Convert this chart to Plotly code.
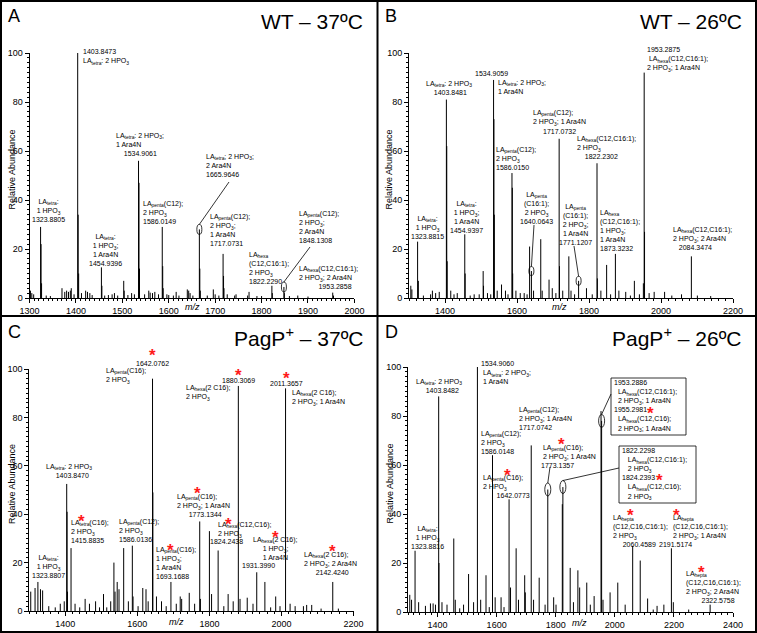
import plotly.graph_objects as go

W, H = 757, 633
FONT = "Liberation Sans, Arial, sans-serif"

# peak lists: (m/z, relative abundance %)
peaks_a = [(1300, 5), (1302, 3), (1305, 2), (1309, 1.5), (1323.88, 29), (1324.88, 22), (1326, 6), (1336, 1),
           (1345, 0.8), (1370, 4), (1376, 2.5), (1380, 3), (1384, 2.5), (1388, 3), (1390, 4), (1396, 1.5),
           (1403.85, 100), (1404.85, 34), (1405.9, 10), (1412, 2), (1421, 3), (1425, 2.5), (1430, 2), (1435, 1.2),
           (1454.94, 12.5), (1455.94, 5), (1462, 1), (1470, 1.2), (1478, 1.5), (1483, 2), (1490, 1), (1503, 7),
           (1504, 3), (1512, 1.2), (1520, 2), (1526, 1.5), (1534.91, 56), (1535.91, 47), (1537, 12), (1548, 1.5),
           (1557, 3), (1560, 2.2), (1565, 2), (1570, 2.5), (1578, 1.5), (1586.01, 29), (1587.01, 13), (1588, 4),
           (1596, 1.5), (1600, 1.2), (1610, 1), (1616, 2.5), (1622, 1), (1640, 3.5), (1643, 3), (1646, 2),
           (1652, 1), (1665.96, 28), (1666.96, 12), (1668, 3), (1683, 1), (1696, 3.5), (1700, 1.5), (1708, 1),
           (1717.07, 18), (1718.07, 9), (1719, 4), (1726, 1.5), (1742, 1), (1745, 1.5), (1770, 1), (1773, 2.5),
           (1790, 0.8), (1800, 0.8), (1822.23, 5), (1823.2, 2), (1848.13, 4.5), (1849.1, 2), (1860, 0.8),
           (1878, 1), (1900, 0.6), (1953.29, 2.2), (1955, 1)]

peaks_b = [(1305, 5), (1308, 3.5), (1323.88, 23), (1326, 7), (1340, 1), (1360, 1.5), (1365, 3), (1374, 2),
           (1384, 2.5), (1403.85, 81), (1404.85, 62), (1406, 15), (1416, 3), (1425, 1.5), (1434, 2),
           (1454.94, 26), (1456, 10), (1470, 1), (1481, 1.5), (1495, 1.5), (1506, 11), (1507, 5), (1518, 2),
           (1527, 1.5), (1534.91, 89), (1535.91, 73), (1537, 34), (1545, 3), (1557, 5.5), (1568, 3), (1575, 1.5),
           (1586.02, 51), (1587.02, 45), (1588, 10), (1597, 3), (1609, 2), (1620, 2), (1628, 1.5), (1635, 21),
           (1640.06, 11), (1646, 3), (1666, 24), (1670, 3), (1689, 7.5), (1698, 4), (1708, 2), (1717.07, 65),
           (1718.07, 13), (1727, 3), (1744, 17), (1750, 3), (1760, 1.5), (1771.12, 7), (1793, 4), (1809, 1.5),
           (1822.23, 55), (1823.23, 8), (1833, 3), (1849, 13.5), (1860, 1.5), (1873.32, 18), (1883, 3),
           (1902, 2.5), (1915, 1), (1926, 7), (1940, 1.5), (1951, 6), (1953.29, 92), (1954.29, 27), (1967, 2),
           (1981, 2.5), (2010, 2.5), (2030, 1), (2057, 1.5), (2084.35, 17), (2101, 1), (2138, 0.8)]

peaks_c = [(1304, 8), (1316, 9.5), (1323.88, 12), (1331, 9), (1337, 8.5), (1354, 2), (1372, 1.5), (1386, 3),
           (1397, 4), (1403.85, 52.5), (1404.85, 41), (1406, 8), (1415.88, 26), (1427, 3), (1440, 1.5),
           (1455, 5), (1467, 3), (1484, 4), (1495, 1.5), (1506, 7), (1515, 1.5), (1526, 4), (1534.91, 20),
           (1538, 8), (1544, 12), (1549, 9), (1562, 26), (1575, 4), (1586.01, 27), (1588, 6), (1602, 2),
           (1615, 9.5), (1624, 9), (1630, 4), (1642.08, 96), (1643.08, 49), (1653, 6), (1667, 4), (1680, 2),
           (1693.17, 12), (1708, 3), (1719, 6), (1723, 5), (1744, 7.5), (1759, 3), (1773.13, 37), (1775, 5),
           (1800, 33), (1806, 7), (1824.24, 25), (1840, 2), (1852, 7), (1866, 4), (1880.31, 93), (1885, 5),
           (1905, 5.5), (1921, 3), (1931.4, 16), (1954, 12), (1970, 1.5), (1984, 6), (1996, 2), (2011.37, 92),
           (2024, 3), (2038, 2), (2061, 2), (2070, 2.5), (2084, 2.5), (2110, 1), (2142.42, 12), (2158, 1)]

peaks_d = [(1306, 7), (1312, 5), (1323.88, 25), (1336, 4), (1359, 2.5), (1376, 3.5), (1385, 3.5), (1393, 3),
           (1403.85, 88), (1404.85, 20), (1415, 4), (1432, 3), (1454.94, 30), (1460, 5), (1475, 1.5), (1488, 3),
           (1505, 15.5), (1522, 4), (1534.91, 100), (1546, 5), (1564, 15), (1575, 2), (1586.01, 64), (1595, 6),
           (1615, 6), (1625, 2), (1642.08, 46), (1647, 10), (1666, 26), (1674, 5), (1695, 15), (1697, 8),
           (1717.07, 68), (1725, 5), (1744, 14), (1764, 3), (1773.14, 50), (1793, 6), (1801, 3), (1822.23, 44),
           (1824.24, 51), (1849, 18), (1860, 4), (1875, 17), (1881, 10), (1905, 12), (1917, 3), (1930, 6.5),
           (1953.29, 82), (1955.3, 78), (1960, 5), (1984, 8), (2010, 12), (2035, 3), (2060.46, 27), (2086, 21),
           (2111, 5.5), (2130, 1), (2143, 2.5), (2166, 3), (2191.52, 26), (2198, 4), (2250, 1), (2322.58, 3)]

letters = ["A", "B", "C", "D"]
titles = ["WT – 37ºC", "WT – 26ºC", "PagP<sup>+</sup> – 37ºC", "PagP<sup>+</sup> – 26ºC"]
x_ranges = [(1300, 2000), (1300, 2200), (1300, 2200), (1300, 2400)]

# pixel placement of each plot area: (left, right), (bottom, top)
PAN = [
    dict(xd=(29.5, 354.4), yd=(298, 53), dt=100, mdt=10, title_x=365, top=0, left=0, mz=(192, 307)),
    dict(xd=(409, 733), yd=(298, 53), dt=200, mdt=20, title_x=744, top=0, left=377, mz=(559, 307)),
    dict(xd=(29.3, 353.5), yd=(611, 369), dt=200, mdt=20, title_x=366, top=316, left=0, mz=(176, 622)),
    dict(xd=(408, 733), yd=(612, 367), dt=200, mdt=20, title_x=744, top=316, left=377, mz=(579, 623)),
]

fig = go.Figure()
ann = []
shapes = []


def data_px(k, mz, v):
    p = PAN[k]
    m0, m1 = x_ranges[k]
    x = p["xd"][0] + (mz - m0) / (m1 - m0) * (p["xd"][1] - p["xd"][0])
    y = p["yd"][0] - v / 100 * (p["yd"][0] - p["yd"][1])
    return x, y


def note(px, py, text, xa="left", align="left", size=7):
    ann.append(dict(x=px / W, y=1 - py / H, xref="paper", yref="paper", text=text, showarrow=False,
                    xanchor=xa, yanchor="top", align=align, borderpad=0, yshift=2,
                    font=dict(size=size, color="black", family=FONT)))


def star(px, py):
    ann.append(dict(x=px / W, y=1 - py / H, xref="paper", yref="paper", text="<b>*</b>", showarrow=False,
                    xanchor="center", yanchor="middle", yshift=-3, borderpad=0,
                    font=dict(size=17, color="#ff1a1a", family=FONT)))


def line(x1, y1, x2, y2, w=0.8):
    shapes.append(dict(type="line", xref="paper", yref="paper", x0=x1 / W, y0=1 - y1 / H, x1=x2 / W,
                       y1=1 - y2 / H, line=dict(color="black", width=w)))


def ellipse(k, peaks, mz, w, h, lead):
    v = dict(peaks)[mz]
    cx, cy = data_px(k, mz, v)
    shapes.append(dict(type="circle", xref="paper", yref="paper", x0=(cx - w / 2) / W, x1=(cx + w / 2) / W,
                       y0=1 - (cy - h / 2) / H, y1=1 - (cy + h / 2) / H, line=dict(color="black", width=0.8)))
    line(lead[0], lead[1], cx, cy - h / 2)


def box(x0, y0, x1, y1):
    shapes.append(dict(type="rect", xref="paper", yref="paper", x0=x0 / W, x1=x1 / W, y0=1 - y0 / H,
                       y1=1 - y1 / H, line=dict(color="black", width=0.8)))


for k, peaks in enumerate([peaks_a, peaks_b, peaks_c, peaks_d]):
    xs, ys = [], []
    for m, v in peaks:
        xs += [m, m, None]
        ys += [0, v, None]
    sfx = "" if k == 0 else str(k + 1)
    fig.add_trace(go.Scatter(x=xs, y=ys, mode="lines", line=dict(color="black", width=1),
                             xaxis="x" + sfx, yaxis="y" + sfx, showlegend=False, hoverinfo="skip"))
    p = PAN[k]
    tickfont = dict(size=9, color="black", family=FONT)
    fig.layout["xaxis" + sfx] = dict(
        domain=[p["xd"][0] / W, p["xd"][1] / W], range=list(x_ranges[k]), anchor="y" + sfx,
        automargin=False, showline=True, linecolor="black", linewidth=1, ticks="outside", ticklen=4,
        tickcolor="black", tick0=0, dtick=p["dt"], showgrid=False, zeroline=False, tickfont=tickfont,
        minor=dict(dtick=p["mdt"], ticks="outside", ticklen=2, tickcolor="black", showgrid=False))
    fig.layout["yaxis" + sfx] = dict(
        domain=[1 - p["yd"][0] / H, 1 - p["yd"][1] / H], range=[0, 100], anchor="x" + sfx,
        automargin=False, showline=True, linecolor="black", linewidth=1, ticks="outside", ticklen=4,
        tickcolor="black", tick0=0, dtick=20, showgrid=False, zeroline=False, tickfont=tickfont,
        minor=dict(dtick=2, ticks="outside", ticklen=2, tickcolor="black", showgrid=False))

    # panel letter, title, axis titles
    ann.append(dict(x=(p["left"] + 14) / W, y=1 - (p["top"] + 16) / H, xref="paper", yref="paper",
                    text=letters[k], showarrow=False, xanchor="center", yanchor="middle",
                    font=dict(size=18, color="black", family=FONT)))
    ann.append(dict(x=p["title_x"] / W, y=1 - (p["top"] + 21) / H, xref="paper", yref="paper",
                    text=titles[k], showarrow=False, xanchor="right", yanchor="middle",
                    font=dict(size=21, color="black", family=FONT)))
    ann.append(dict(x=(p["left"] + 12) / W, y=1 - ((p["yd"][0] + p["yd"][1]) / 2 - 6) / H, xref="paper",
                    yref="paper", text="Relative Abundance", textangle=-90, showarrow=False,
                    xanchor="center", yanchor="middle", font=dict(size=9, color="black", family=FONT)))
    ann.append(dict(x=p["mz"][0] / W, y=1 - p["mz"][1] / H, xref="paper", yref="paper", text="<i>m/z</i>",
                    showarrow=False, xanchor="center", yanchor="middle",
                    font=dict(size=9, color="black", family=FONT)))

S = "\u00a0"
# ---- panel A labels ----
note(82, 49, "1403.8473<br>LA<sub>tetra</sub>: 2 HPO<sub>3</sub>")
note(115, 133, "LA<sub>tetra</sub>: 2 HPO<sub>3</sub>;<br>1 Ara4N<br>" + S * 4 + "1534.9061")
note(31, 199, "LA<sub>tetra</sub>:<br>1 HPO<sub>3</sub><br>1323.8805", align="center")
note(88, 234, "LA<sub>tetra</sub>:<br>1 HPO<sub>3</sub>;<br>1 Ara4N<br>1454.9396", align="center")
note(142, 201, "LA<sub>penta</sub>(C12);<br>2 HPO<sub>3</sub><br>1586.0149")
note(205, 154, "LA<sub>tetra</sub>; 2 HPO<sub>3</sub>;<br>2 Ara4N<br>1665.9646")
note(209, 214, "LA<sub>penta</sub>(C12);<br>2 HPO<sub>3</sub>;<br>1 Ara4N<br>1717.0731")
note(298, 211, "LA<sub>penta</sub>(C12);<br>2 HPO<sub>3</sub>;<br>2 Ara4N<br>1848.1308")
note(248, 252, "LA<sub>hexa</sub><br>(C12,C16:1);<br>2 HPO<sub>3</sub><br>1822.2290")
note(298, 266, "LA<sub>hexa</sub>(C12,C16:1);<br>2 HPO<sub>3</sub>; 2 Ara4N<br>" + S * 10 + "1953.2858")
ellipse(0, peaks_a, 1665.96, 5, 10, (229, 182))
ellipse(0, peaks_a, 1848.13, 5, 10, (310, 247))

# ---- panel B labels ----
note(425, 81, "LA<sub>tetra</sub>: 2 HPO<sub>3</sub><br>" + S * 4 + "1403.8481")
note(491, 71, "1534.9059", xa="center")
note(497, 80, "LA<sub>tetra</sub>: 2 HPO<sub>3</sub>;<br>1 Ara4N")
note(532, 110, "LA<sub>penta</sub>(C12);<br>2 HPO<sub>3</sub>; 1 Ara4N")
note(559, 129, "1717.0732", xa="center")
note(576, 136, "LA<sub>hexa</sub>(C12,C16:1);<br>2 HPO<sub>3</sub><br>" + S * 4 + "1822.2302")
note(646, 47, "1953.2875<br>" + S + "LA<sub>hexa</sub>(C12,C16:1);<br>2 HPO<sub>3</sub>; 1 Ara4N")
note(495, 147, "LA<sub>penta</sub>(C12);<br>2 HPO<sub>3</sub><br>1586.0150")
note(449, 201, "LA<sub>tetra</sub>:<br>1 HPO<sub>3</sub>;<br>1 Ara4N<br>1454.9397", align="center")
note(410, 216, "LA<sub>tetra</sub>:<br>1 HPO<sub>3</sub><br>1323.8815", align="center")
note(519, 192, "LA<sub>penta</sub><br>(C16:1);<br>2 HPO<sub>3</sub><br>1640.0643", align="center")
note(558, 204, "LA<sub>penta</sub><br>(C16:1);<br>2 HPO<sub>3</sub>;<br>1 Ara4N<br>1771.1207", align="center")
note(599, 210, "LA<sub>hexa</sub><br>(C12,C16:1);<br>1 HPO<sub>3</sub>;<br>1 Ara4N<br>1873.3232")
note(672, 227, "LA<sub>hexa</sub>(C12,C16:1);<br>2 HPO<sub>3</sub>; 2 Ara4N<br>" + S * 3 + "2084.3474")
ellipse(1, peaks_b, 1640.06, 5, 9, (534, 225))
ellipse(1, peaks_b, 1771.12, 5, 9, (574, 246))

# ---- panel C labels ----
star(152, 353)
note(152, 361, "1642.0762", xa="center")
note(105, 368, "LA<sub>penta</sub>(C16);<br>2 HPO<sub>3</sub>")
star(238, 372)
note(238, 378, "1880.3069", xa="center")
note(185, 385, "LA<sub>hexa</sub>(2 C16);<br>2 HPO<sub>3</sub>")
star(286, 375)
note(286, 381, "2011.3657", xa="center")
note(291, 390, "LA<sub>hexa</sub>(2 C16);<br>2 HPO<sub>3</sub>; 1 Ara4N")
note(45, 464, "LA<sub>tetra</sub>: 2 HPO<sub>3</sub><br>" + S * 5 + "1403.8470")
star(81, 518)
note(70, 520, "LA<sub>tetra</sub>(C16);<br>2 HPO<sub>3</sub><br>1415.8835")
note(118, 519, "LA<sub>penta</sub>(C12);<br>2 HPO<sub>3</sub><br>1586.0136")
star(170, 547)
note(155, 547, "LA<sub>penta</sub>(C16);<br>1 HPO<sub>3</sub>;<br>1 Ara4N<br>1693.1688")
star(197, 490)
note(176, 494, "LA<sub>penta</sub>(C16);<br>2 HPO<sub>3</sub>; 1 Ara4N<br>" + S * 6 + "1773.1344")
star(228, 521)
note(217, 522, "LA<sub>hexa</sub>(C12,C16);<br>2 HPO<sub>3</sub>")
note(209, 539, "1824.2438")
star(275, 534)
note(252, 537, "LA<sub>hexa</sub>(2 C16);<br>" + S * 5 + "1 HPO<sub>3</sub>;<br>" + S * 5 + "1 Ara4N")
note(241, 563, "1931.3990")
star(332, 548)
note(303, 552, "LA<sub>hexa</sub>(2 C16);<br>2 HPO<sub>3</sub>; 2 Ara4N<br>" + S * 6 + "2142.4240")
note(31, 555, "LA<sub>tetra</sub>:<br>1 HPO<sub>3</sub><br>1323.8807", align="center")

# ---- panel D labels ----
note(480, 361, "1534.9060<br>" + S + "LA<sub>tetra</sub>: 2 HPO<sub>3</sub>;<br>" + S + "1 Ara4N")
note(415, 379, "LA<sub>tetra</sub>: 2 HPO<sub>3</sub><br>" + S * 5 + "1403.8482")
note(518, 407, "LA<sub>penta</sub>(C12);<br>2 HPO<sub>3</sub>; 1 Ara4N<br>1717.0742")
note(480, 431, "LA<sub>penta</sub>(C12);<br>2 HPO<sub>3</sub><br>1586.0148")
star(561, 441)
note(540, 445, S + "LA<sub>penta</sub>(C16);<br>" + S + "2 HPO<sub>3</sub>; 1 Ara4N<br>1773.1357")
star(507, 472)
note(482, 475, "LA<sub>penta</sub>(C16);<br>2 HPO<sub>3</sub><br>" + S * 7 + "1642.0773")
box(611, 378, 686, 435)
note(613, 380, "1953.2886<br>" + S * 2 + "LA<sub>hexa</sub>(C12,C16:1);<br>" + S * 2 + "2 HPO<sub>3</sub>; 1 Ara4N<br>"
     "1955.2981<br>" + S * 2 + "LA<sub>hexa</sub>(C12,C16);<br>" + S * 2 + "2 HPO<sub>3</sub>; 1 Ara4N")
star(650, 410)
box(619, 446, 696, 503)
note(621, 448, "1822.2298<br>" + S * 3 + "LA<sub>hexa</sub>(C12,C16:1);<br>" + S * 3 + "2 HPO<sub>3</sub><br>"
     "1824.2393<br>" + S * 3 + "LA<sub>hexa</sub>(C12,C16);<br>" + S * 3 + "2 HPO<sub>3</sub>")
star(659, 478)
ellipse(3, peaks_d, 1773.14, 6, 13, (550, 467))
ellipse(3, peaks_d, 1824.24, 6, 13, (619, 468))
ellipse(3, peaks_d, 1955.3, 6, 13, (611, 394))
star(630, 512)
note(612, 515, "LA<sub>hepta</sub><br>(C12,C16,C16:1);<br>2 HPO<sub>3</sub><br>" + S * 5 + "2060.4589")
star(676, 512)
note(672, 515, "LA<sub>hepta</sub><br>(C12,C16,C16:1);<br>2 HPO<sub>3</sub>; 1 Ara4N")
note(658, 542, "2191.5174")
star(701, 569)
note(685, 571, "LA<sub>hepta</sub><br>(C12,C16,C16:1);<br>2 HPO<sub>3</sub>; 2 Ara4N<br>" + S * 8 + "2322.5758")
note(410, 526, "LA<sub>tetra</sub>:<br>1 HPO<sub>3</sub><br>1323.8816", align="center")

# panel frame and dividers
shapes.append(dict(type="rect", xref="paper", yref="paper", x0=1 / W, x1=(W - 1) / W, y0=1 / H, y1=(H - 1) / H,
                   line=dict(color="black", width=2)))
line(377.5, 0, 377.5, H, w=2)
line(0, 316, W, 316, w=2)

fig.update_layout(width=W, height=H, margin=dict(l=0, r=0, t=0, b=0), plot_bgcolor="white",
                  paper_bgcolor="white", annotations=ann, shapes=shapes, showlegend=False,
                  font=dict(family=FONT, color="black"))
# drop the browser's default page margin so the figure fills the window exactly
fig.write_html("out.html", config={"displayModeBar": False},
               post_script="document.body.style.margin='0';")
